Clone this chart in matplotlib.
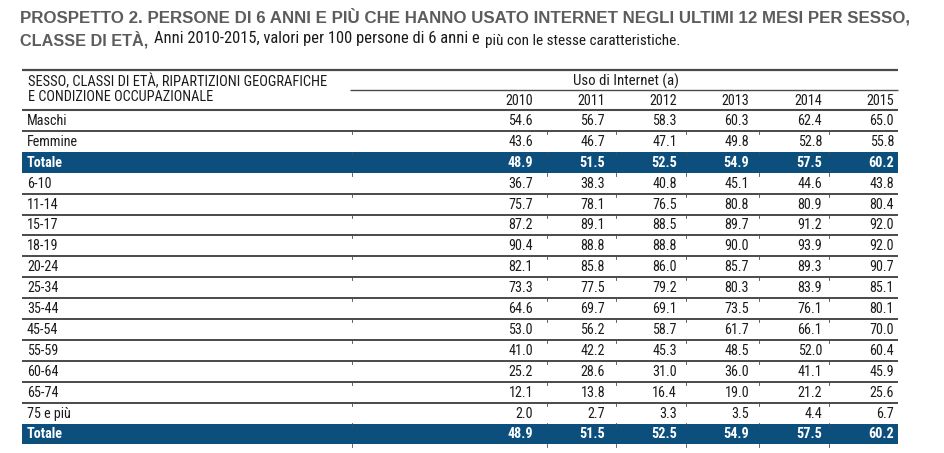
import matplotlib
matplotlib.use("Agg")
import matplotlib.pyplot as plt
from matplotlib import font_manager as fm

names = {f.name for f in fm.fontManager.ttflist}
NARROW = next((n for n in ["Liberation Sans Narrow", "Nimbus Sans Narrow", "Arial Narrow",
                           "Roboto Condensed", "PT Sans Narrow", "Archivo Narrow",
                           "Barlow Semi Condensed"] if n in names), "Liberation Sans")
WIDE = "Liberation Sans"

title_line1 = "PROSPETTO 2. PERSONE DI 6 ANNI E PIÙ CHE HANNO USATO INTERNET NEGLI ULTIMI 12 MESI PER SESSO,"
title_line2a = "CLASSE DI ETÀ,"
title_line2b = "Anni 2010-2015, valori per 100 persone di 6 anni e"
title_line2c = "più con le stesse caratteristiche."
header_left = ["SESSO, CLASSI DI ETÀ, RIPARTIZIONI GEOGRAFICHE", "E CONDIZIONE OCCUPAZIONALE"]
header_group = "Uso di Internet (a)"
years = ["2010", "2011", "2012", "2013", "2014", "2015"]

categories = ["Maschi", "Femmine", "Totale", "6-10", "11-14", "15-17", "18-19", "20-24",
              "25-34", "35-44", "45-54", "55-59", "60-64", "65-74", "75 e più", "Totale"]
v2010 = [54.6, 43.6, 48.9, 36.7, 75.7, 87.2, 90.4, 82.1, 73.3, 64.6, 53.0, 41.0, 25.2, 12.1, 2.0, 48.9]
v2011 = [56.7, 46.7, 51.5, 38.3, 78.1, 89.1, 88.8, 85.8, 77.5, 69.7, 56.2, 42.2, 28.6, 13.8, 2.7, 51.5]
v2012 = [58.3, 47.1, 52.5, 40.8, 76.5, 88.5, 88.8, 86.0, 79.2, 69.1, 58.7, 45.3, 31.0, 16.4, 3.3, 52.5]
v2013 = [60.3, 49.8, 54.9, 45.1, 80.8, 89.7, 90.0, 85.7, 80.3, 73.5, 61.7, 48.5, 36.0, 19.0, 3.5, 54.9]
v2014 = [62.4, 52.8, 57.5, 44.6, 80.9, 91.2, 93.9, 89.3, 83.9, 76.1, 66.1, 52.0, 41.1, 21.2, 4.4, 57.5]
v2015 = [65.0, 55.8, 60.2, 43.8, 80.4, 92.0, 92.0, 90.7, 85.1, 80.1, 70.0, 60.4, 45.9, 25.6, 6.7, 60.2]
columns = [v2010, v2011, v2012, v2013, v2014, v2015]
highlight = [False, False, True] + [False] * 12 + [True]

W, H = 944, 453
fig = plt.figure(figsize=(W / 100, H / 100), dpi=100)
ax = fig.add_axes([0, 0, 1, 1])
ax.set_xlim(0, W)
ax.set_ylim(H, 0)
ax.axis("off")
renderer = fig.canvas.get_renderer()


def fit_text(x, y, s, width, **kw):
    t = ax.text(x, y, s, **kw)
    w = t.get_window_extent(renderer).width
    t.set_fontsize(t.get_fontsize() * width / w)
    return t


BAND = "#0d4f7c"
LINE = "#4a4a4a"
TXT = "#1a1a1a"
TGRAY = "#5c5c5c"
left, right = 22, 898
col_right = [533, 605, 677, 749, 822, 894]
ticks_x = [352, 547, 616, 686, 759, 829]

# Title
fit_text(20, 17, title_line1, 885, fontsize=11, fontweight="bold", color=TGRAY,
         family=WIDE, va="center", ha="left")
fit_text(20, 40, title_line2a, 128, fontsize=11, fontweight="bold", color=TGRAY,
         family=WIDE, va="center", ha="left")
fit_text(154, 38, title_line2b, 326, fontsize=11, color=TXT, family=NARROW, va="center", ha="left")
ax.text(485, 41, title_line2c, fontsize=11, color=TXT, family=NARROW, va="center", ha="left")

# header lines
ax.plot([left, right], [70, 70], color=LINE, lw=1.6, solid_capstyle="butt")
ax.plot([350, right], [90, 90], color=LINE, lw=1.0, solid_capstyle="butt")
ax.plot([left, right], [110, 110], color=LINE, lw=1.5, solid_capstyle="butt")
fit_text(28, 82, header_left[0], 300, fontsize=7.3, color=TXT, family=NARROW, va="center")
fit_text(28, 97, header_left[1], 186, fontsize=7.3, color=TXT, family=NARROW, va="center")
fit_text(573, 81, header_group, 106, fontsize=9, color=TXT, family=NARROW, va="center", ha="left")
FS = 10.2
for x, y in zip(col_right, years):
    ax.text(x, 101, y, fontsize=FS, color=TXT, family=NARROW, va="center", ha="right")

top0 = 110
pitch = 20.9
for i, cat in enumerate(categories):
    top = top0 + pitch * i
    cy = top + pitch / 2 + 0.5
    if highlight[i]:
        ax.add_patch(plt.Rectangle((left, top), right - left, pitch, color=BAND, lw=0))
        col = "white"
        fw = "bold"
    else:
        col = TXT
        fw = "normal"
    ax.text(27, cy, cat, fontsize=FS, color=col, fontweight=fw, family=NARROW, va="center")
    for x, vals in zip(col_right, columns):
        ax.text(x, cy, f"{vals[i]:.1f}", fontsize=FS, color=col, fontweight=fw,
                family=NARROW, va="center", ha="right")
    bottom = top + pitch
    if not highlight[i] and (i + 1 < len(categories) and not highlight[i + 1]):
        ax.plot([left, right], [bottom, bottom], color=LINE, lw=1.4, solid_capstyle="butt")
    for tx in ticks_x:
        ax.plot([tx, tx], [bottom, bottom + 3], color=LINE, lw=0.6)

fig.savefig("out.png", dpi=100)
